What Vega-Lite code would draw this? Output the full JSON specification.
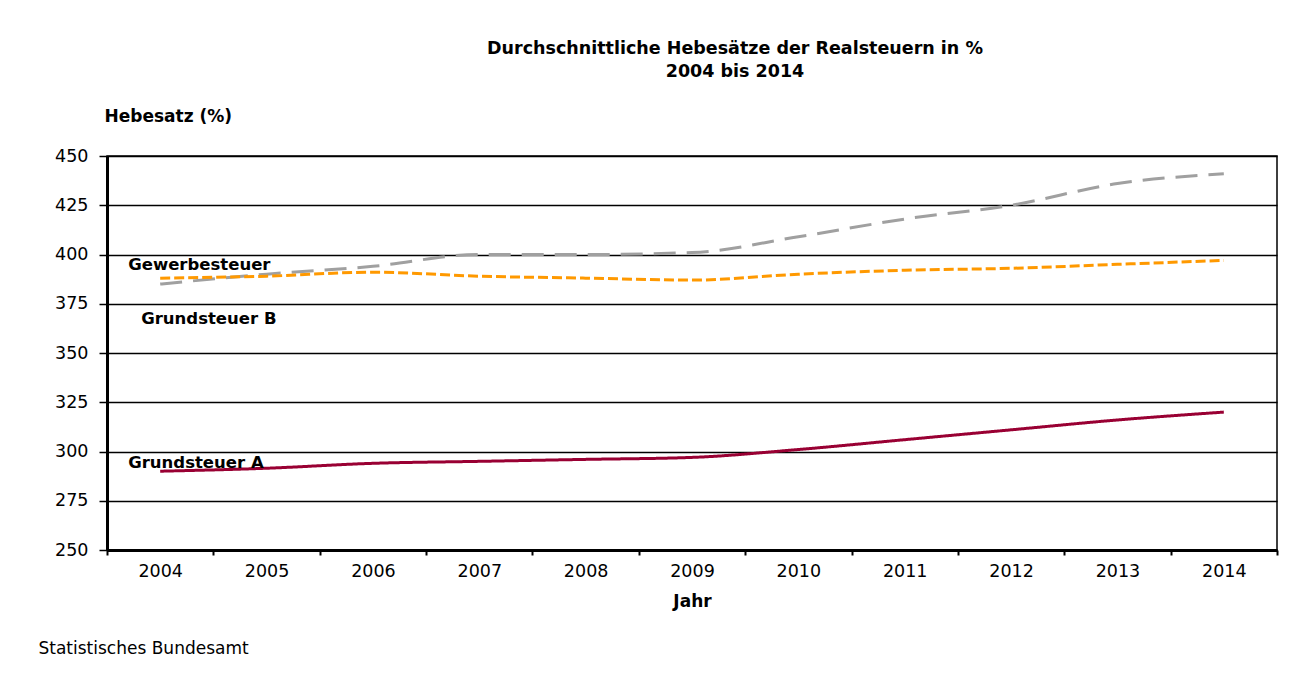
{
  "$schema": "https://vega.github.io/schema/vega-lite/v6.json",
  "autosize": "none",
  "width": 1170,
  "height": 394,
  "padding": {"left": 107, "top": 156, "right": 28, "bottom": 125},
  "background": "white",
  "config": {
    "font": "DejaVu Sans",
    "view": {"stroke": "black", "strokeWidth": 1.5},
    "axis": {"labelFont": "DejaVu Sans", "titleFont": "DejaVu Sans", "labelColor": "black", "titleColor": "black"}
  },
  "title": {
    "text": ["Durchschnittliche Hebesätze der Realsteuern in %", "2004 bis 2014"],
    "anchor": "middle",
    "frame": "group",
    "dx": 43,
    "fontSize": 17.5,
    "fontWeight": "bold",
    "lineHeight": 23,
    "color": "black",
    "offset": 27
  },
  "data": {
    "values": [
      {"Jahr": "2004", "Reihe": "Grundsteuer A", "Hebesatz": 290},
      {"Jahr": "2005", "Reihe": "Grundsteuer A", "Hebesatz": 291.5},
      {"Jahr": "2006", "Reihe": "Grundsteuer A", "Hebesatz": 294},
      {"Jahr": "2007", "Reihe": "Grundsteuer A", "Hebesatz": 295},
      {"Jahr": "2008", "Reihe": "Grundsteuer A", "Hebesatz": 296},
      {"Jahr": "2009", "Reihe": "Grundsteuer A", "Hebesatz": 297},
      {"Jahr": "2010", "Reihe": "Grundsteuer A", "Hebesatz": 301},
      {"Jahr": "2011", "Reihe": "Grundsteuer A", "Hebesatz": 306},
      {"Jahr": "2012", "Reihe": "Grundsteuer A", "Hebesatz": 311},
      {"Jahr": "2013", "Reihe": "Grundsteuer A", "Hebesatz": 316},
      {"Jahr": "2014", "Reihe": "Grundsteuer A", "Hebesatz": 320},
      {"Jahr": "2004", "Reihe": "Grundsteuer B", "Hebesatz": 385},
      {"Jahr": "2005", "Reihe": "Grundsteuer B", "Hebesatz": 390},
      {"Jahr": "2006", "Reihe": "Grundsteuer B", "Hebesatz": 394},
      {"Jahr": "2007", "Reihe": "Grundsteuer B", "Hebesatz": 400},
      {"Jahr": "2008", "Reihe": "Grundsteuer B", "Hebesatz": 400},
      {"Jahr": "2009", "Reihe": "Grundsteuer B", "Hebesatz": 401},
      {"Jahr": "2010", "Reihe": "Grundsteuer B", "Hebesatz": 409},
      {"Jahr": "2011", "Reihe": "Grundsteuer B", "Hebesatz": 418},
      {"Jahr": "2012", "Reihe": "Grundsteuer B", "Hebesatz": 425},
      {"Jahr": "2013", "Reihe": "Grundsteuer B", "Hebesatz": 436},
      {"Jahr": "2014", "Reihe": "Grundsteuer B", "Hebesatz": 441},
      {"Jahr": "2004", "Reihe": "Gewerbesteuer", "Hebesatz": 388},
      {"Jahr": "2005", "Reihe": "Gewerbesteuer", "Hebesatz": 389},
      {"Jahr": "2006", "Reihe": "Gewerbesteuer", "Hebesatz": 391},
      {"Jahr": "2007", "Reihe": "Gewerbesteuer", "Hebesatz": 389},
      {"Jahr": "2008", "Reihe": "Gewerbesteuer", "Hebesatz": 388},
      {"Jahr": "2009", "Reihe": "Gewerbesteuer", "Hebesatz": 387},
      {"Jahr": "2010", "Reihe": "Gewerbesteuer", "Hebesatz": 390},
      {"Jahr": "2011", "Reihe": "Gewerbesteuer", "Hebesatz": 392},
      {"Jahr": "2012", "Reihe": "Gewerbesteuer", "Hebesatz": 393},
      {"Jahr": "2013", "Reihe": "Gewerbesteuer", "Hebesatz": 395},
      {"Jahr": "2014", "Reihe": "Gewerbesteuer", "Hebesatz": 397}
    ]
  },
  "encoding": {
    "x": {
      "field": "Jahr",
      "type": "ordinal",
      "scale": {"paddingInner": 0, "paddingOuter": 0},
      "axis": {
        "title": "Jahr",
        "labelAngle": 0,
        "labelFontSize": 17.5,
        "labelPadding": 7,
        "tickBand": "extent",
        "tickSize": 5,
        "tickWidth": 2,
        "tickColor": "black",
        "domainColor": "black",
        "domainWidth": 3,
        "grid": false,
        "titleFontSize": 17,
        "titleFontWeight": "bold",
        "titlePadding": 14
      }
    },
    "y": {
      "field": "Hebesatz",
      "type": "quantitative",
      "scale": {"domain": [250, 450], "nice": false, "zero": false},
      "axis": {
        "values": [250, 275, 300, 325, 350, 375, 400, 425, 450],
        "title": "Hebesatz (%)",
        "titleAngle": 0,
        "titleAlign": "left",
        "titleBaseline": "middle",
        "titleX": -3,
        "titleY": -40,
        "titleFontSize": 17,
        "titleFontWeight": "bold",
        "labelFontSize": 17.5,
        "labelPadding": 11,
        "tickSize": 8,
        "tickWidth": 1.5,
        "tickColor": "black",
        "domainColor": "black",
        "domainWidth": 3,
        "grid": true,
        "gridColor": "black",
        "gridWidth": 1.5,
        "gridOpacity": 1
      }
    }
  },
  "layer": [
    {
      "mark": {"type": "line", "interpolate": "monotone"},
      "encoding": {
        "color": {
          "field": "Reihe",
          "type": "nominal",
          "scale": {"domain": ["Grundsteuer A", "Grundsteuer B", "Gewerbesteuer"], "range": ["#990033", "#A0A0A0", "#FF9900"]},
          "legend": null
        },
        "strokeDash": {
          "field": "Reihe",
          "type": "nominal",
          "scale": {"domain": ["Grundsteuer A", "Grundsteuer B", "Gewerbesteuer"], "range": [[1, 0], [22, 11], [10, 4]]},
          "legend": null
        },
        "strokeWidth": {
          "field": "Reihe",
          "type": "nominal",
          "scale": {"domain": ["Grundsteuer A", "Grundsteuer B", "Gewerbesteuer"], "range": [3, 3, 3.5]},
          "legend": null
        }
      }
    },
    {
      "data": {"values": [
        {"Jahr": "2004", "Hebesatz": 394.7, "Label": "Gewerbesteuer"},
        {"Jahr": "2004", "Hebesatz": 294.2, "Label": "Grundsteuer A"}
      ]},
      "mark": {"type": "text", "align": "left", "baseline": "middle", "dx": -32, "fontSize": 16.5, "fontWeight": "bold", "color": "black"},
      "encoding": {
        "text": {"field": "Label"},
        "y": {"field": "Hebesatz", "type": "quantitative", "axis": null}
      }
    },
    {
      "data": {"values": [
        {"Jahr": "2004", "Hebesatz": 367.3, "Label": "Grundsteuer B"}
      ]},
      "mark": {"type": "text", "align": "left", "baseline": "middle", "dx": -19, "fontSize": 16.5, "fontWeight": "bold", "color": "black"},
      "encoding": {
        "text": {"field": "Label"},
        "y": {
          "field": "Hebesatz",
          "type": "quantitative",
          "axis": {
            "orient": "right",
            "labels": false,
            "ticks": false,
            "domain": false,
            "grid": false,
            "title": "Statistisches Bundesamt",
            "titleAngle": 0,
            "titleAlign": "left",
            "titleBaseline": "middle",
            "titleX": -1239,
            "titleY": 492,
            "titleFontSize": 17,
            "titleFontWeight": "normal"
          }
        }
      }
    }
  ],
  "resolve": {"axis": {"y": "independent"}}
}
